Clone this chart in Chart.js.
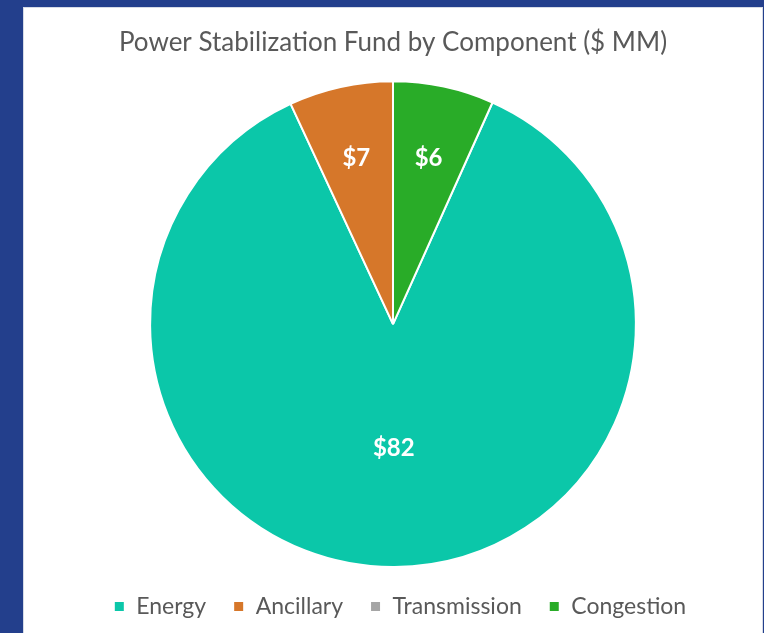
<!DOCTYPE html>
<html>
<head>
<meta charset="utf-8">
<script src="https://cdn.jsdelivr.net/npm/chart.js@4.4.1/dist/chart.umd.min.js"></script>
<style>
   html, body { margin: 0; padding: 0; background: #233f8c; width: 764px; height: 633px; overflow: hidden; }
   #panel { position: absolute; left: 23px; top: 7px; width: 738px; height: 626px; background: #fff; border-left: 1px solid #d6dbe6; border-top: 1px solid #d6dbe6; border-right: 1px solid #d6dbe6; }
   #panel canvas { display: block; }
</style>
</head>
<body>
<div id="panel"><canvas id="fund-chart" width="738" height="626"></canvas></div>
<script>
// values in $ MM
const components = ["Energy", "Ancillary", "Transmission", "Congestion"];
const fundValues = [82.3, 6.6, 0, 6.4];
const sliceColors = ["#0bc7a9", "#d6772a", "#a5a5a5", "#29ac28"];

const total = fundValues.reduce((a, b) => a + b, 0);
// Excel-style "angle of first slice" so that Congestion ends at 12 o'clock
const firstAngle = (fundValues[3] / total) * 360;

// draws the $ labels inside the slices
const sliceLabels = {
   id: "sliceLabels",
   afterLayout(chart) {
      // legend in the original sits a little right of centre
      chart.legend.left += 7;
      chart.legend.right += 7;
   },
   afterDatasetsDraw(chart) {
      const ctx = chart.ctx;
      const meta = chart.getDatasetMeta(0);
      ctx.save();
      ctx.fillStyle = "#ffffff";
      ctx.font = "bold 24px Lato";
      ctx.textAlign = "center";
      ctx.textBaseline = "middle";
      meta.data.forEach((arc, i) => {
         const v = fundValues[i];
         if (!v) return;
         const p = arc.getProps(["x", "y", "startAngle", "endAngle", "outerRadius"], true);
         const mid = (p.startAngle + p.endAngle) / 2;
         const frac = p.endAngle - p.startAngle > Math.PI ? 0.51 : 0.7;
         const r = p.outerRadius * frac;
         ctx.fillText("$" + Math.round(v), p.x + Math.cos(mid) * r, p.y + Math.sin(mid) * r);
      });
      ctx.restore();
   },
};

const fundCtx = document.getElementById("fund-chart").getContext("2d");
const fundChart = new Chart(fundCtx, {
   type: "pie",
   data: {
      labels: components,
      datasets: [
         {
            data: fundValues,
            backgroundColor: sliceColors,
            borderColor: "#ffffff",
            borderWidth: 2,
         },
      ],
   },
   options: {
      responsive: false,
      animation: false,
      rotation: firstAngle,
      layout: { padding: { top: 0, bottom: 6, left: 0, right: 0 } },
      plugins: {
         title: {
            display: true,
            text: "Power Stabilization Fund by Component ($ MM)",
            color: "#595959",
            font: { family: "Lato", size: 26, weight: "normal" },
            padding: { top: 19, bottom: 22 },
         },
         legend: {
            position: "bottom",
            labels: {
               color: "#595959",
               font: { family: "Lato", size: 23 },
               boxWidth: 11,
               boxHeight: 11,
               padding: 27,
            },
         },
         tooltip: { enabled: false },
      },
   },
   plugins: [sliceLabels],
});
</script>
</body>
</html>
